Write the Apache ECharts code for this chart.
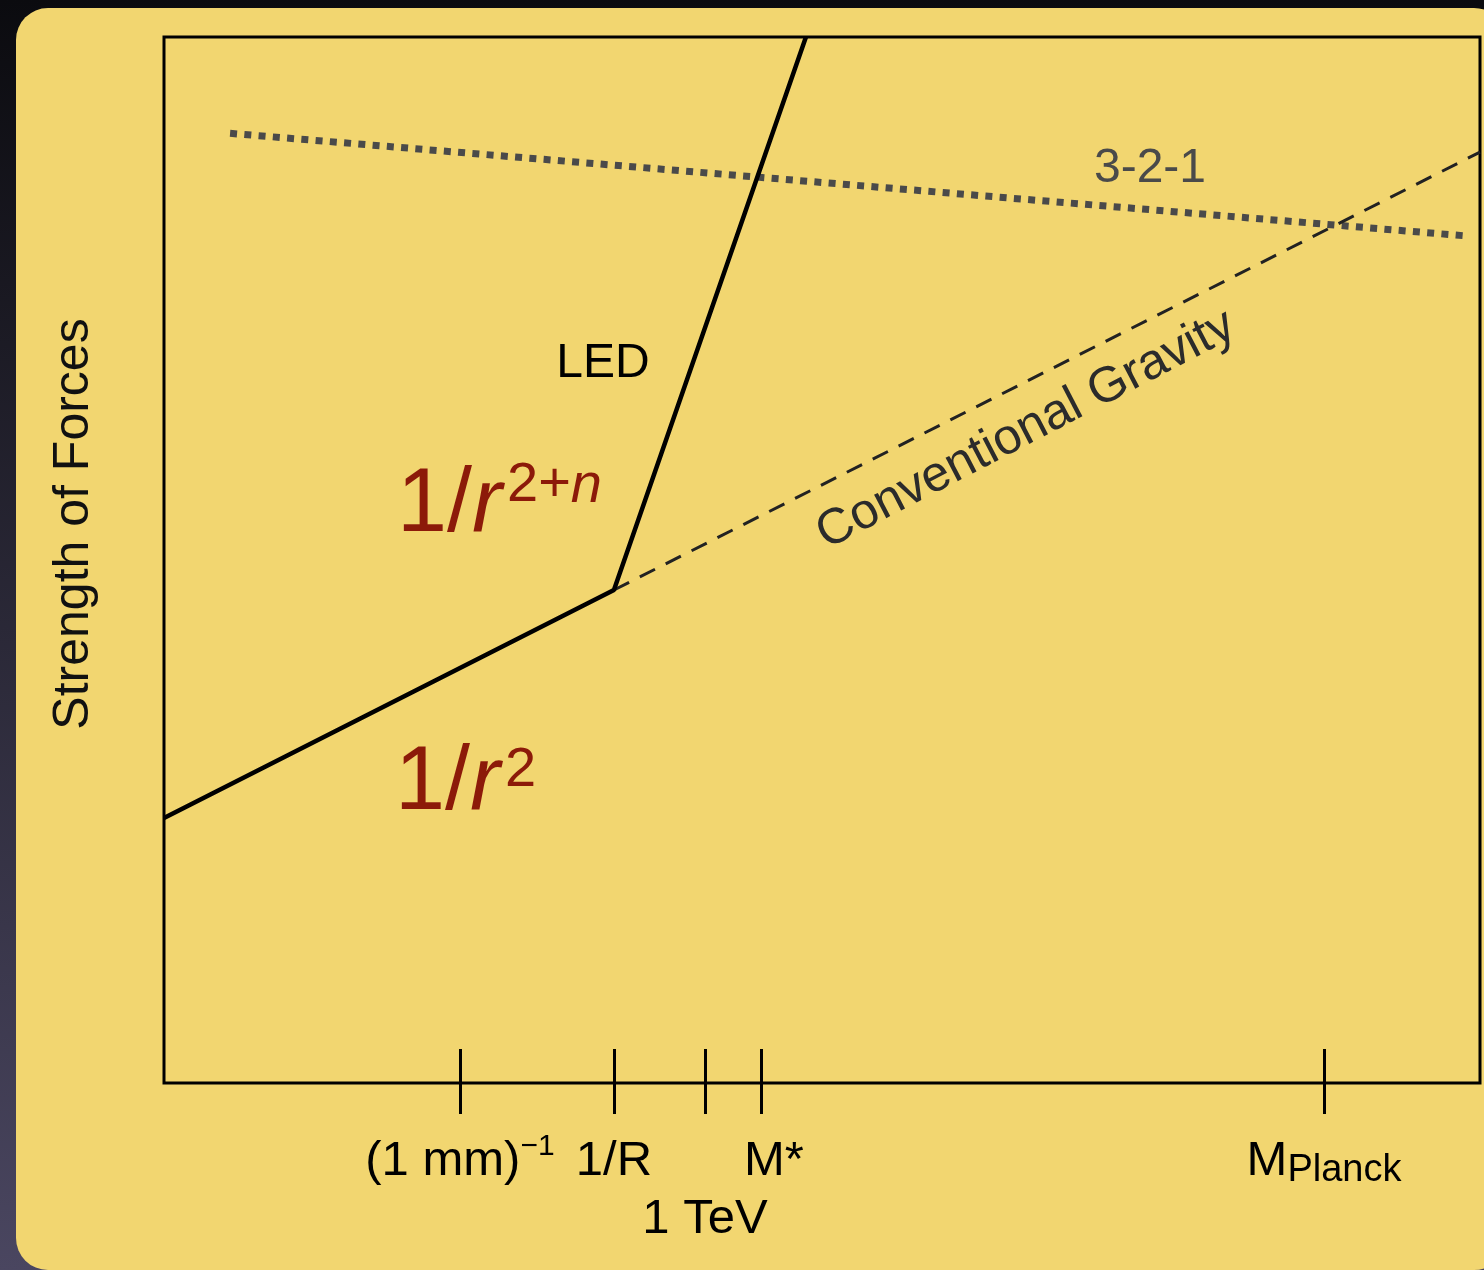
<!DOCTYPE html>
<html>
<head>
<meta charset="utf-8">
<script src="https://cdn.jsdelivr.net/npm/echarts@6.0.0/dist/echarts.min.js"></script>
<style>
  html, body { margin: 0; padding: 0; background: #111; }
  #chart { width: 1484px; height: 1270px; }
</style>
</head>
<body>
<div id="chart"></div>
<script>
// both axes are schematic (log energy / log strength), scaled 0..100 across the frame
const tickValues = [22.49, 34.19, 41.11, 45.36, 88.15];
const tickLabels = ['{t|(1 mm)}{sup|−1}', '{t|1/R}', '{t| }\n{t|1 TeV}', '{ms|M*}', '{t|M}{sub|Planck}'];

// LED: 1/r^2 up to 1/R, then 1/r^(2+n)
const ledX = [0, 34.19, 48.78];
const ledY = [25.33, 47.13, 100];
// conventional gravity continues from the kink
const gravityX = [34.19, 100];
const gravityY = [47.13, 89.0];
// 3-2-1 gauge couplings
const gutX = [5.02, 99.16];
const gutY = [90.79, 80.96];

function pairs(xs, ys) {
  return xs.map((x, i) => [x, ys[i]]);
}

const FONT = '"Liberation Sans", Arial, sans-serif';
const RED = '#8c1a09';

const chart = echarts.init(document.getElementById('chart'));

const option = {
  backgroundColor: new echarts.graphic.LinearGradient(0, 0, 0, 1, [
    { offset: 0, color: '#0b0b0f' },
    { offset: 1, color: '#4a4660' }
  ]),
  animation: false,
  graphic: [
    {
      type: 'rect',
      z: -10,
      shape: { x: 16, y: 8, width: 1490, height: 1262, r: 32 },
      style: { fill: '#f2d670' }
    },
    {
      type: 'text',
      style: { text: 'LED', x: 603, y: 364, font: '48px ' + FONT, fill: '#000', textAlign: 'center', textVerticalAlign: 'middle' }
    },
    {
      type: 'text',
      style: { text: '3-2-1', x: 1150, y: 169, font: '48px ' + FONT, fill: '#4a4a4a', textAlign: 'center', textVerticalAlign: 'middle' }
    },
    {
      type: 'text',
      x: 1026, y: 430,
      rotation: 27.5 * Math.PI / 180,
      style: { text: 'Conventional Gravity', x: 0, y: 0, font: '50px ' + FONT, fill: '#2b2b2b', textAlign: 'center', textVerticalAlign: 'middle' }
    },
    {
      type: 'text',
      style: {
        text: '{n|1/}{i|r}', x: 397, y: 506, textAlign: 'left', textVerticalAlign: 'middle',
        rich: {
          n: { font: '90px ' + FONT, fill: RED, color: RED },
          i: { font: 'italic 90px ' + FONT, fill: RED, color: RED }
        }
      }
    },
    {
      type: 'text',
      style: {
        text: '{n|2+}{i|n}', x: 507, y: 486, textAlign: 'left', textVerticalAlign: 'middle',
        rich: {
          n: { font: '56px ' + FONT, fill: RED, color: RED },
          i: { font: 'italic 56px ' + FONT, fill: RED, color: RED }
        }
      }
    },
    {
      type: 'text',
      style: {
        text: '{n|1/}{i|r}', x: 395, y: 784, textAlign: 'left', textVerticalAlign: 'middle',
        rich: {
          n: { font: '90px ' + FONT, fill: RED, color: RED },
          i: { font: 'italic 90px ' + FONT, fill: RED, color: RED }
        }
      }
    },
    {
      type: 'text',
      style: { text: '2', x: 505, y: 771, font: '56px ' + FONT, fill: RED, textAlign: 'left', textVerticalAlign: 'middle' }
    }
  ],
  grid: {
    left: 164, top: 37, right: 4, bottom: 187,
    show: true,
    borderColor: '#000',
    borderWidth: 3,
    backgroundColor: 'transparent'
  },
  xAxis: [
    {
      type: 'value', min: 0, max: 100, position: 'bottom',
      axisLine: { show: false },
      splitLine: { show: false },
      axisTick: {
        show: true, inside: true, length: 34, customValues: tickValues,
        lineStyle: { color: '#000', width: 3 }
      },
      axisLabel: {
        show: true, margin: 49, customValues: tickValues,
        formatter: v => tickLabels[tickValues.indexOf(v)],
        rich: {
          t: { fontFamily: FONT, fontSize: 49, lineHeight: 58, color: '#000' },
          sup: { fontFamily: FONT, fontSize: 30, lineHeight: 26, color: '#000', verticalAlign: 'top' },
          sub: { fontFamily: FONT, fontSize: 38, lineHeight: 30, color: '#000', verticalAlign: 'bottom' },
          ms: { fontFamily: FONT, fontSize: 49, lineHeight: 58, color: '#000', padding: [0, 0, 0, 26] }
        }
      }
    },
    {
      type: 'value', min: 0, max: 100, position: 'bottom', offset: 0,
      axisLine: { show: false },
      splitLine: { show: false },
      axisLabel: { show: false },
      axisTick: {
        show: true, inside: false, length: 31, customValues: tickValues,
        lineStyle: { color: '#000', width: 3 }
      }
    }
  ],
  yAxis: {
    type: 'value', min: 0, max: 100,
    axisLine: { show: false },
    axisTick: { show: false },
    axisLabel: { show: false },
    splitLine: { show: false },
    name: 'Strength of Forces',
    nameLocation: 'middle',
    nameGap: 65,
    nameRotate: 90,
    nameTextStyle: { fontFamily: FONT, fontSize: 50, color: '#111', padding: [0, 0, 0, 72] }
  },
  series: [
    {
      name: 'LED', type: 'line', data: pairs(ledX, ledY),
      symbol: 'none', z: 5,
      lineStyle: { color: '#000', width: 4.5 }
    },
    {
      name: 'Conventional Gravity', type: 'line', data: pairs(gravityX, gravityY),
      symbol: 'none', z: 4,
      lineStyle: { color: '#222', width: 3, type: [17, 12] }
    },
    {
      name: '3-2-1', type: 'line', data: pairs(gutX, gutY),
      symbol: 'none', z: 3,
      lineStyle: { color: '#4a4a4a', width: 7, type: [7, 7.3], cap: 'butt' }
    }
  ]
};

chart.setOption(option);
</script>
</body>
</html>
